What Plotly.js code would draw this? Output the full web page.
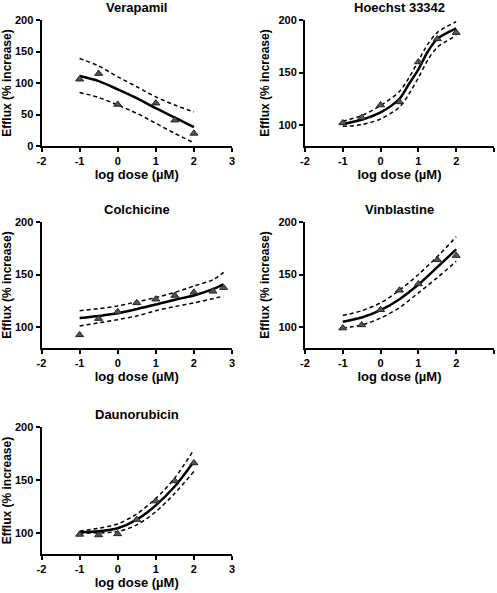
<!DOCTYPE html>
<html>
<head>
<meta charset="utf-8">
<script src="https://cdn.plot.ly/plotly-3.0.1.min.js"></script>
<style>html,body{margin:0;padding:0;background:#fff;}#chart{width:497px;height:593px;}</style>
</head>
<body>
<div id="chart"></div>
<script>
// ---- Data ----
const panelTitles = ["Verapamil", "Hoechst 33342", "Colchicine", "Vinblastine", "Daunorubicin"];
const xTickVals = [-2, -1, 0, 1, 2, 3];
const xTickText = ["-2", "-1", "0", "1", "2", "3"];
const yTicksVerapamil = [0, 50, 100, 150, 200];
const yTicksOther = [100, 150, 200];

const fitDose = [-1, -0.5, 0, 0.5, 1, 1.5, 2];
const colFitDose = [-1, -0.5, 0, 0.5, 1, 1.5, 2, 2.5, 2.78];

// Verapamil
const verDose = [-1, -0.5, 0, 1, 1.5, 2];
const verEff = [106, 115, 66, 68, 41, 20];
const verFit = [111, 103, 90, 76, 60, 45, 30];
const verUpper = [139, 127, 110, 94, 78, 65, 54];
const verLower = [85, 77, 65, 52, 36, 20, 5];

// Hoechst 33342
const hoeDose = [-1, -0.5, 0, 0.5, 1, 1.5, 2];
const hoeEff = [102, 107, 119, 122, 160, 182, 188];
const hoeFitDose = [-1, -0.5, 0, 0.5, 0.75, 1, 1.25, 1.5, 2];
const hoeFit = [101, 105, 112, 125, 139, 153, 170, 182, 192];
const hoeUpper = [103.5, 109, 118.5, 132, 145, 161, 177, 188, 198.5];
const hoeLower = [98.7, 100.3, 105.7, 117, 129.5, 145, 162, 174, 185];

// Colchicine
const colDose = [-1, -0.5, 0, 0.5, 1, 1.5, 2, 2.5, 2.78];
const colEff = [92.5, 108, 114.5, 123, 126.5, 130, 133, 134, 137.5];
const colFit = [108.5, 110.5, 113, 117, 121.5, 126, 130, 136, 140.5];
const colUpper = [115.5, 117.5, 120, 124, 128, 133, 139, 145, 152];
const colLower = [101, 104, 107, 110.5, 115.5, 119.5, 123, 127, 129.5];

// Vinblastine
const vinDose = [-1, -0.5, 0, 0.5, 1, 1.5, 2];
const vinEff = [99, 102, 116.5, 135, 141, 164, 168];
const vinFit = [105, 109, 116, 126.5, 140.5, 157, 174];
const vinUpper = [111, 115.5, 123, 135, 150, 167, 186];
const vinLower = [99, 102, 108.5, 118.5, 132.5, 147, 162.5];

// Daunorubicin
const dauDose = [-1, -0.5, 0, 0.5, 1, 1.5, 2];
const dauEff = [98.5, 98, 99, 112.5, 130, 149, 166];
const dauFit = [100.6, 101.6, 104.4, 112.5, 126, 144, 167.5];
const dauUpper = [101.6, 104.4, 108.4, 117.8, 132.4, 152, 178.5];
const dauLower = [99.7, 100, 101.2, 107.5, 120, 137.4, 158];

const panels = [
  {dose: verDose, eff: verEff, fx: fitDose, fit: verFit, up: verUpper, lo: verLower, yr: [0, 200], yt: yTicksVerapamil},
  {dose: hoeDose, eff: hoeEff, fx: hoeFitDose, fit: hoeFit, up: hoeUpper, lo: hoeLower, yr: [80, 200], yt: yTicksOther},
  {dose: colDose, eff: colEff, fx: colFitDose, fit: colFit, up: colUpper, lo: colLower, yr: [80, 200], yt: yTicksOther},
  {dose: vinDose, eff: vinEff, fx: fitDose, fit: vinFit, up: vinUpper, lo: vinLower, yr: [80, 200], yt: yTicksOther},
  {dose: dauDose, eff: dauEff, fx: fitDose, fit: dauFit, up: dauUpper, lo: dauLower, yr: [80, 200], yt: yTicksOther}
];

// ---- Layout geometry ----
const W = 497, H = 593;
const colX = [[41.5 / W, 232 / W], [305 / W, 494 / W]];
const rowY = [[1 - 146 / H, 1 - 20 / H], [1 - 348 / H, 1 - 222 / H], [1 - 554 / H, 1 - 427 / H]];
const FONT = "Arial, 'Liberation Sans', sans-serif";

const traces = [];
const layout = {
  width: W, height: H,
  margin: {l: 0, r: 0, t: 0, b: 0},
  paper_bgcolor: "#fff", plot_bgcolor: "#fff",
  showlegend: false,
  font: {family: FONT, color: "#000"},
  annotations: []
};

panels.forEach((p, i) => {
  const n = i + 1;
  const xa = "x" + (n === 1 ? "" : n), ya = "y" + (n === 1 ? "" : n);
  const col = i % 2, row = Math.floor(i / 2);
  const dash = {color: "#000", width: 1.5, dash: "4px,3px", shape: "spline", smoothing: 0.8};
  traces.push({x: p.fx, y: p.up, xaxis: xa, yaxis: ya, mode: "lines", line: dash, hoverinfo: "skip"});
  traces.push({x: p.fx, y: p.lo, xaxis: xa, yaxis: ya, mode: "lines", line: dash, hoverinfo: "skip"});
  traces.push({x: p.fx, y: p.fit, xaxis: xa, yaxis: ya, mode: "lines", line: {color: "#000", width: 2.5, shape: "spline", smoothing: 0.8}});
  traces.push({x: p.dose, y: p.eff, xaxis: xa, yaxis: ya, mode: "markers",
    marker: {symbol: "triangle-up", size: 7, color: "#555", line: {color: "#222", width: 1}}});

  const axBase = {
    showline: true, linecolor: "#000", linewidth: 2, showgrid: false, zeroline: false,
    ticks: "outside", ticklen: 4, tickwidth: 2, tickcolor: "#000",
    tickfont: {family: FONT, size: 11, color: "#000", weight: "bold"}
  };
  layout["xaxis" + (n === 1 ? "" : n)] = Object.assign({}, axBase, {
    domain: colX[col], anchor: ya, range: [-2, 3],
    tickmode: "array", tickvals: xTickVals, ticktext: xTickText,
    title: {text: "log dose (µM)", font: {family: FONT, size: 13, color: "#000", weight: "bold"}, standoff: 4}
  });
  layout["yaxis" + (n === 1 ? "" : n)] = Object.assign({}, axBase, {
    domain: rowY[row], anchor: xa, range: p.yr,
    tickmode: "array", tickvals: p.yt,
    title: {text: "Efflux (% increase)", font: {family: FONT, size: 12, color: "#000", weight: "bold"}, standoff: 6}
  });
  layout.annotations.push({
    text: panelTitles[i], xref: "paper", yref: "paper",
    x: (colX[col][0] + colX[col][1]) / 2, y: rowY[row][1] + 13 / H,
    xanchor: "center", yanchor: "middle", showarrow: false,
    font: {family: FONT, size: 13, color: "#000", weight: "bold"}
  });
});

Plotly.newPlot("chart", traces, layout, {staticPlot: true, displayModeBar: false});
</script>
</body>
</html>
